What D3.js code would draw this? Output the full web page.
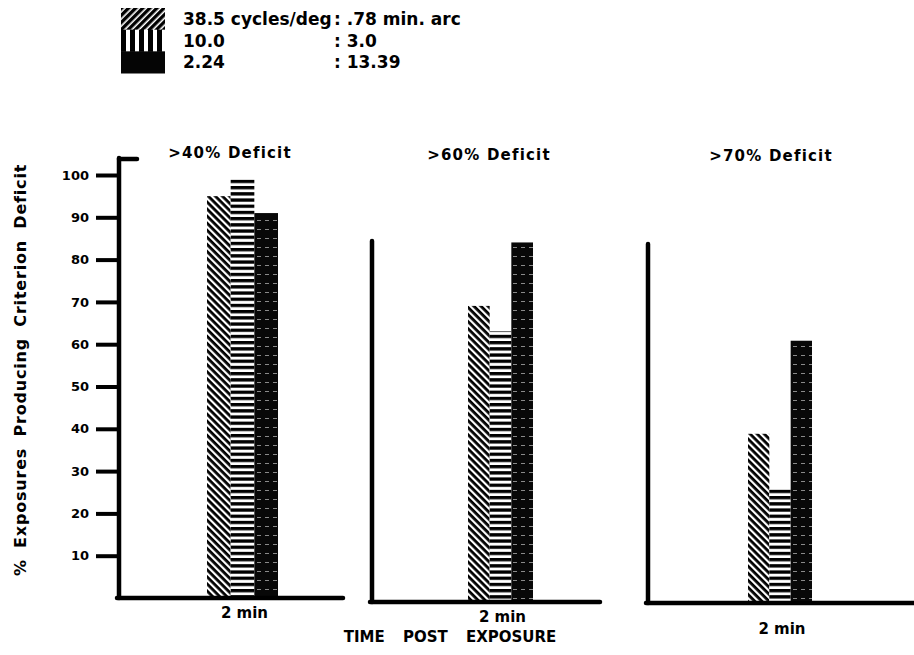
<!DOCTYPE html>
<html>
<head>
<meta charset="utf-8" />
<script src="https://cdn.jsdelivr.net/npm/d3@7"></script>
<style>
  body { margin: 0; background: #fff; }
  svg { display: block; font-family: "DejaVu Sans", Arial, sans-serif; font-weight: bold; }
  .axis-line { stroke: #000; stroke-width: 4.5px; fill: none; stroke-linecap: round; }
</style>
</head>
<body>
<script>
  "use strict";

  var series = ["38.5", "10.0", "2.24"];
  var panelTitles = [">40% Deficit", ">60% Deficit", ">70% Deficit"];
  var panelValues = [
    [95, 99, 91],
    [70, 64, 85],
    [40, 27, 62]
  ];
  var yTicks = [10, 20, 30, 40, 50, 60, 70, 80, 90, 100];
  var legendLeft = ["38.5 cycles/deg", "10.0", "2.24"];
  var legendRight = [": .78 min. arc", ": 3.0", ": 13.39"];

  var width = 914, height = 655;

  var svg = d3.select("body").append("svg")
    .attr("width", width)
    .attr("height", height);

  // patterns
  var defs = svg.append("defs");
  function stripes(id, w, h, band, rot) {
    var p = defs.append("pattern").attr("id", id)
      .attr("patternUnits", "userSpaceOnUse").attr("width", w).attr("height", h);
    if (rot) p.attr("patternTransform", "rotate(" + rot + ")");
    p.append("rect").attr("width", w).attr("height", h).attr("fill", "#fff");
    p.append("rect").attr("width", w).attr("height", band).attr("fill", "#000");
    return p;
  }
  stripes("diagBar", 5, 5, 2.8, 45);
  stripes("diagLeg", 5, 5, 3.4, -45);
  stripes("horiz", 6, 6.2, 3.3, 0);
  stripes("vert", 9, 9, 5, 90);

  var p3 = defs.append("pattern").attr("id", "dark")
    .attr("patternUnits", "userSpaceOnUse").attr("width", 8).attr("height", 9);
  p3.append("rect").attr("width", 8).attr("height", 9).attr("fill", "#080808");
  p3.append("rect").attr("x", 1).attr("y", 4).attr("width", 4).attr("height", 0.8).attr("fill", "#aaa");

  var barFills = ["url(#diagBar)", "url(#horiz)", "url(#dark)"];
  var legendFills = ["url(#diagLeg)", "url(#vert)", "#050505"];

  // legend
  var legend = svg.append("g");
  var ly = d3.scaleBand().domain(series).range([8, 73]);
  legend.selectAll("rect").data(series).enter().append("rect")
    .attr("x", 121).attr("y", function(d) { return ly(d); })
    .attr("width", 44).attr("height", ly.bandwidth() + 0.5)
    .attr("fill", function(d, i) { return legendFills[i]; });
  legend.selectAll("text.l").data(legendLeft).enter().append("text")
    .attr("class", "l")
    .attr("x", 183).attr("y", function(d, i) { return ly(series[i]) + ly.bandwidth() / 2 + 6; })
    .attr("font-size", 17).text(function(d) { return d; });
  legend.selectAll("text.r").data(legendRight).enter().append("text")
    .attr("class", "r")
    .attr("x", 334).attr("y", function(d, i) { return ly(series[i]) + ly.bandwidth() / 2 + 6; })
    .attr("font-size", 17).text(function(d) { return d; });

  // panel layout
  var panels = [
    { axisX: 119, axisTop: 158, base: 598, xEnd: 343, bars: [207, 278], label: 618, title: [230, 158], stub: true },
    { axisX: 372, axisTop: 241, base: 602, xEnd: 600, bars: [468, 533], label: 622, title: [489, 160], stub: false },
    { axisX: 648, axisTop: 244, base: 603, xEnd: 914, bars: [748, 812], label: 634, title: [771, 161], stub: false }
  ];

  panels.forEach(function(p, pi) {
    var g = svg.append("g");
    var y = d3.scaleLinear().domain([0, 100]).range([p.base, p.base - 423]);
    var x = d3.scaleBand().domain(series).range(p.bars);

    g.selectAll("rect.bar").data(panelValues[pi]).enter().append("rect")
      .attr("class", "bar")
      .attr("x", function(d, i) { return x(series[i]); })
      .attr("y", function(d) { return y(d); })
      .attr("width", x.bandwidth())
      .attr("height", function(d) { return p.base - y(d); })
      .attr("fill", function(d, i) { return barFills[i]; });

    g.append("line").attr("class", "axis-line")
      .attr("x1", p.axisX).attr("x2", p.axisX)
      .attr("y1", p.axisTop).attr("y2", p.base);
    g.append("line").attr("class", "axis-line")
      .attr("x1", p.axisX - 2).attr("x2", p.xEnd)
      .attr("y1", p.base).attr("y2", p.base);
    if (p.stub) {
      g.append("line").attr("class", "axis-line")
        .attr("x1", p.axisX).attr("x2", p.axisX + 18)
        .attr("y1", p.axisTop + 1).attr("y2", p.axisTop + 1);

      var ax = g.append("g")
        .attr("transform", "translate(" + (p.axisX - 2) + ",0)")
        .call(d3.axisLeft(y).tickValues(yTicks).tickSize(21).tickPadding(7));
      ax.select(".domain").remove();
      ax.selectAll(".tick line").attr("stroke", "#000").attr("stroke-width", 4);
      ax.selectAll(".tick text")
        .attr("font-size", 13).attr("font-weight", "bold")
        .attr("font-family", "'DejaVu Sans', Arial, sans-serif")
        .attr("fill", "#000");
    }

    g.append("text")
      .attr("x", (p.bars[0] + p.bars[1]) / 2 + 2)
      .attr("y", p.label)
      .attr("text-anchor", "middle")
      .attr("font-size", 15)
      .text("2 min");

    g.append("text")
      .attr("x", p.title[0])
      .attr("y", p.title[1])
      .attr("text-anchor", "middle")
      .attr("font-size", 15)
      .attr("letter-spacing", 1.2)
      .text(panelTitles[pi]);
  });

  svg.append("text")
    .attr("x", 450).attr("y", 642)
    .attr("text-anchor", "middle")
    .attr("font-size", 15)
    .attr("word-spacing", 13)
    .text("TIME POST EXPOSURE");

  svg.append("text")
    .attr("transform", "translate(26,370) rotate(-90)")
    .attr("text-anchor", "middle")
    .attr("font-size", 16)
    .attr("letter-spacing", 0.8)
    .attr("word-spacing", 5)
    .text("% Exposures Producing Criterion Deficit");
</script>
</body>
</html>
